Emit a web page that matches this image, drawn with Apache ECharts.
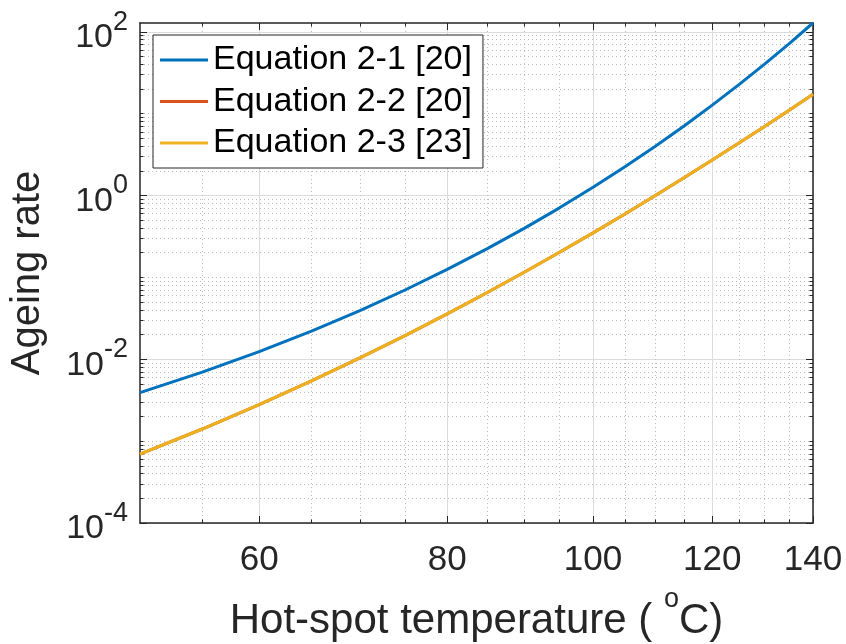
<!DOCTYPE html>
<html>
<head>
<meta charset="utf-8">
<title>Ageing rate</title>
<script src="https://cdn.jsdelivr.net/npm/echarts@6.0.0/dist/echarts.min.js"></script>
<style>
  html, body { margin: 0; padding: 0; background: #fff; }
  #chart { width: 846px; height: 644px; }
</style>
</head>
<body>
<div id="chart"></div>
<script>
// hot-spot temperature samples (degC)
const temperature = [50, 55, 60, 65, 70, 75, 80, 85, 90, 95, 100, 105, 110, 115, 120, 125, 130, 135, 140];

// ageing rate
const eq21 = [0.003906, 0.00696, 0.0124, 0.0221, 0.03937, 0.07015, 0.125, 0.2227, 0.3969, 0.7071,
  1.26, 2.245, 4.0, 7.127, 12.70, 22.63, 40.32, 71.84, 128];
const eq22 = [0.000693, 0.001406, 0.002793, 0.005439, 0.01039, 0.01947, 0.03585, 0.0649, 0.1156, 0.2026,
  0.3499, 0.5957, 1.0, 1.657, 2.709, 4.376, 6.984, 11.02, 17.2];
const eq23 = [0.000693, 0.001406, 0.002793, 0.005439, 0.01039, 0.01947, 0.03585, 0.0649, 0.1156, 0.2026,
  0.3499, 0.5957, 1.0, 1.657, 2.709, 4.376, 6.984, 11.02, 17.2];

const seriesNames = ['Equation 2-1 [20]', 'Equation 2-2 [20]', 'Equation 2-3 [23]'];
const seriesColors = ['#0072BD', '#D95319', '#EDB120'];

// ticks
const xMajorTicks = [60, 80, 100, 120, 140];
const xMinorTicks = [55, 65, 70, 75, 85, 90, 95, 105, 110, 115, 125, 130, 135];
const yMajorTicks = [1e-4, 1e-2, 1, 100];
const yDecades = [1e-4, 1e-3, 1e-2, 1e-1, 1, 10];
const yMinorSteps = [1, 2, 3, 4, 5, 6, 7, 8, 9];
const yMinorTicks = [];
yDecades.forEach(d => yMinorSteps.forEach(k => {
  const v = Number((k * d).toPrecision(6));
  if (yMajorTicks.indexOf(v) < 0) yMinorTicks.push(v);
}));

const ink = '#262626';
const font = '"Liberation Sans", Helvetica, Arial, sans-serif';

const chart = echarts.init(document.getElementById('chart'), null, { renderer: 'canvas' });

// blank log axis, the parts we want get switched on per copy
function xAxis(extra) {
  return Object.assign({
    type: 'log', min: 50, max: 140, position: 'bottom',
    axisLine: { show: false }, axisLabel: { show: false },
    axisTick: { show: false }, splitLine: { show: false }
  }, extra);
}
function yAxis(extra) {
  return Object.assign({
    type: 'log', min: 1e-4, max: 128, position: 'left',
    axisLine: { show: false }, axisLabel: { show: false },
    axisTick: { show: false }, splitLine: { show: false }
  }, extra);
}

const boxLine = { show: true, onZero: false, lineStyle: { color: ink, width: 1.5 } };
const majorGrid = { show: true, lineStyle: { color: '#dcdcdc', width: 1, type: 'solid' } };
const minorGrid = { show: true, lineStyle: { color: '#bcbcbc', width: 1, type: [1, 3] } };

const option = {
  animation: false,
  backgroundColor: '#ffffff',
  grid: { left: 140, top: 23, width: 673, height: 500, containLabel: false, outerBoundsMode: 'none' },
  legend: {
    left: 153, top: 35, orient: 'vertical',
    data: seriesNames,
    icon: 'rect',
    itemWidth: 48, itemHeight: 3, itemGap: 7.5,
    padding: [8, 11, 8, 7],
    backgroundColor: '#ffffff', borderColor: ink, borderWidth: 1,
    textStyle: { fontFamily: font, fontSize: 34, lineHeight: 34, color: '#000' }
  },
  xAxis: [
    xAxis({
      axisLine: boxLine,
      axisTick: { show: true, inside: true, length: 7, customValues: xMajorTicks, lineStyle: { color: ink } },
      axisLabel: { show: true, customValues: xMajorTicks, margin: 20, color: ink, fontFamily: font, fontSize: 35 },
      splitLine: majorGrid,
      name: '{n|Hot-spot temperature ( }{s|o}{n|C)}',
      nameLocation: 'middle', nameGap: 63,
      nameTextStyle: {
        rich: {
          n: { fontFamily: font, fontSize: 42, lineHeight: 42, verticalAlign: 'bottom', color: ink },
          s: { fontFamily: font, fontSize: 27, lineHeight: 56, verticalAlign: 'top', color: ink }
        }
      }
    }),
    xAxis({
      axisTick: { show: true, inside: true, length: 3.5, customValues: xMinorTicks, lineStyle: { color: ink } },
      splitLine: minorGrid
    }),
    xAxis({
      position: 'top', axisLine: boxLine,
      axisTick: { show: true, inside: true, length: 7, customValues: xMajorTicks, lineStyle: { color: ink } }
    }),
    xAxis({
      position: 'top',
      axisTick: { show: true, inside: true, length: 3.5, customValues: xMinorTicks, lineStyle: { color: ink } }
    })
  ],
  yAxis: [
    yAxis({
      axisLine: boxLine,
      axisTick: { show: true, inside: true, length: 7, customValues: yMajorTicks, lineStyle: { color: ink } },
      axisLabel: {
        show: true, customValues: yMajorTicks, margin: 12,
        formatter: v => '{m|10}{s|' + Math.round(Math.log10(v)) + '}',
        rich: {
          m: { fontFamily: font, fontSize: 34, lineHeight: 34, verticalAlign: 'bottom', color: ink },
          s: { fontFamily: font, fontSize: 27, lineHeight: 46, verticalAlign: 'top', color: ink }
        }
      },
      splitLine: majorGrid,
      name: 'Ageing rate', nameLocation: 'middle', nameGap: 92,
      nameTextStyle: { fontFamily: font, fontSize: 40, color: ink }
    }),
    yAxis({
      axisTick: { show: true, inside: true, length: 3.5, customValues: yMinorTicks, lineStyle: { color: ink } },
      splitLine: minorGrid
    }),
    yAxis({
      position: 'right', axisLine: boxLine,
      axisTick: { show: true, inside: true, length: 7, customValues: yMajorTicks, lineStyle: { color: ink } }
    }),
    yAxis({
      position: 'right',
      axisTick: { show: true, inside: true, length: 3.5, customValues: yMinorTicks, lineStyle: { color: ink } }
    })
  ],
  series: [eq21, eq22, eq23].map((vals, i) => ({
    name: seriesNames[i],
    type: 'line',
    xAxisIndex: 0, yAxisIndex: 0,
    data: temperature.map((t, j) => [t, vals[j]]),
    showSymbol: false, symbol: 'none',
    clip: true,
    color: seriesColors[i],
    lineStyle: { color: seriesColors[i], width: 3 }
  }))
};

chart.setOption(option);
</script>
</body>
</html>
